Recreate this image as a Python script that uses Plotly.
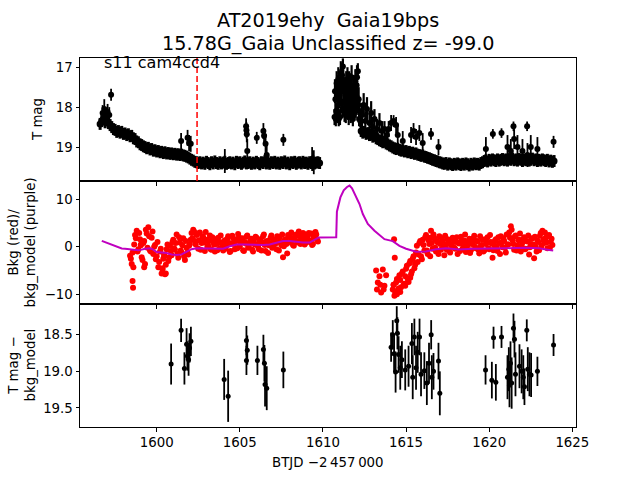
import numpy as np
import plotly.graph_objects as go
from plotly.subplots import make_subplots

# ---------------- data ----------------
CADENCE = 0.1  # days between cadence samples of the dense light-curve lists

# Top panel: T mag, orbit 1 (starts 1596.6)
lc1_start = 1596.6
lc1_mag = [18.42, 18.35, 18.30, 18.38, 18.33, 18.40, 18.45, 18.50, 18.55, 18.57,
           18.62, 18.60, 18.64, 18.62, 18.67, 18.66, 18.70, 18.68, 18.73, 18.72,
           18.78, 18.80, 18.86, 18.88, 18.93, 18.95, 18.98, 19.00, 19.03, 19.02,
           19.06, 19.05, 19.09, 19.08, 19.11, 19.10, 19.13, 19.12, 19.15, 19.13,
           19.16, 19.15, 19.17, 19.16, 19.18, 19.17, 19.19, 19.18, 19.20, 19.19,
           19.21, 19.22, 19.24, 19.26, 19.29, 19.32, 19.34, 19.37, 19.38, 19.40,
           19.38, 19.41, 19.39, 19.42, 19.37, 19.40, 19.43, 19.38, 19.41, 19.36,
           19.40, 19.42, 19.38, 19.41, 19.39, 19.37, 19.42, 19.40, 19.38, 19.41,
           19.39, 19.43, 19.37, 19.40, 19.38, 19.42, 19.39, 19.36, 19.41, 19.40,
           19.38, 19.42, 19.39, 19.41, 19.37, 19.40, 19.43, 19.38, 19.40, 19.36,
           19.41, 19.39, 19.42, 19.38, 19.40, 19.37, 19.41, 19.39, 19.42, 19.38,
           19.40, 19.36, 19.41, 19.39, 19.43, 19.38, 19.40, 19.37, 19.42, 19.39,
           19.38, 19.41, 19.37, 19.40, 19.39, 19.42, 19.38, 19.40, 19.36, 19.41,
           19.39, 19.38, 19.40]
lc1_err = 0.15

# Top panel: orbit 2 after the flare (starts 1612.3)
lc2_start = 1612.3
lc2_mag = [18.60, 18.64, 18.62, 18.67, 18.65, 18.70, 18.69, 18.74, 18.72, 18.78,
           18.80, 18.83, 18.85, 18.88, 18.87, 18.91, 18.93, 18.96, 18.98, 19.01,
           19.03, 19.05, 19.04, 19.07, 19.09, 19.08, 19.11, 19.10, 19.13, 19.12,
           19.15, 19.14, 19.17, 19.16, 19.19, 19.20, 19.22, 19.21, 19.24, 19.25,
           19.27, 19.28, 19.30, 19.32, 19.33, 19.35, 19.36, 19.38, 19.39, 19.41,
           19.42, 19.40, 19.44, 19.41, 19.43, 19.45, 19.42, 19.44, 19.41, 19.43,
           19.45, 19.42, 19.44, 19.41, 19.43, 19.46, 19.42, 19.44, 19.41, 19.43,
           19.42, 19.44, 19.40, 19.38, 19.35, 19.33, 19.36, 19.32, 19.34, 19.31,
           19.33, 19.35, 19.31, 19.34, 19.32, 19.30, 19.33, 19.31, 19.34, 19.30,
           19.32, 19.29, 19.33, 19.31, 19.34, 19.30, 19.32, 19.35, 19.31, 19.33,
           19.30, 19.34, 19.32, 19.29, 19.33, 19.31, 19.35, 19.32, 19.34, 19.31,
           19.33, 19.35, 19.32, 19.36, 19.34, 19.37, 19.35]
lc2_err = 0.15

# Top panel: flare at the start of orbit 2
flare_t = [1610.70, 1610.75, 1610.80, 1610.85, 1610.90, 1610.95, 1611.00, 1611.05,
           1611.10, 1611.15, 1611.20, 1611.25, 1611.30, 1611.35, 1611.40, 1611.45,
           1611.50, 1611.55, 1611.60, 1611.65, 1611.70, 1611.75, 1611.80, 1611.85,
           1611.90, 1611.95, 1612.00, 1612.05, 1612.10, 1612.15, 1612.20, 1612.25,
           1612.35, 1612.45, 1612.55, 1612.65, 1612.80, 1612.90, 1613.00, 1613.10,
           1613.25, 1613.40, 1613.55, 1613.70, 1613.85]
flare_mag = [18.25, 17.80, 18.10, 17.50, 17.95, 18.30, 17.65, 17.35,
             17.90, 17.20, 16.98, 17.55, 18.15, 17.70, 17.40, 18.00,
             17.60, 18.25, 17.85, 17.45, 18.05, 17.70, 18.30, 17.50,
             17.90, 17.35, 17.75, 17.25, 17.10, 17.80, 18.10, 18.35,
             18.20, 17.95, 18.35, 18.05, 18.40, 18.15, 18.50, 18.30,
             18.55, 18.40, 18.60, 18.55, 18.70]
flare_err = [0.2, 0.3, 0.22, 0.3, 0.25, 0.18, 0.3, 0.3,
             0.25, 0.3, 0.2, 0.3, 0.22, 0.3, 0.3, 0.25,
             0.3, 0.2, 0.28, 0.3, 0.22, 0.3, 0.18, 0.3,
             0.28, 0.3, 0.3, 0.3, 0.2, 0.3, 0.25, 0.15,
             0.3, 0.3, 0.25, 0.3, 0.25, 0.3, 0.25, 0.25,
             0.25, 0.25, 0.25, 0.2, 0.2]
flare2_t = [1610.725, 1610.775, 1610.825, 1610.875, 1610.925, 1610.975, 1611.025,
            1611.075, 1611.125, 1611.175, 1611.225, 1611.275, 1611.325, 1611.375,
            1611.425, 1611.475, 1611.525, 1611.575, 1611.625, 1611.675, 1611.725,
            1611.775, 1611.825, 1611.875, 1611.925, 1611.975, 1612.025, 1612.075,
            1612.125, 1612.175]
flare2_mag = [17.60, 18.30, 17.40, 18.20, 17.30, 17.75, 18.25, 17.15, 17.60, 18.05,
              17.35, 17.85, 17.55, 18.20, 17.80, 17.30, 18.10, 17.40, 17.65, 18.20,
              17.25, 17.95, 17.55, 18.15, 17.65, 18.05, 17.45, 17.80, 17.95, 18.30]
flare2_err = [0.3, 0.18, 0.3, 0.2, 0.3, 0.28, 0.2, 0.3, 0.3, 0.22,
              0.3, 0.26, 0.3, 0.2, 0.28, 0.3, 0.22, 0.3, 0.3, 0.2,
              0.3, 0.25, 0.3, 0.2, 0.3, 0.22, 0.3, 0.28, 0.25, 0.18]

# Top panel: isolated points with large error bars
out_t = [1596.75, 1596.85, 1596.95, 1597.05, 1597.15, 1597.26,
         1601.47, 1601.86, 1601.95, 1602.05, 1604.10,
         1605.38, 1605.40, 1605.42, 1605.45, 1606.02,
         1606.42, 1606.46, 1606.55, 1606.62, 1607.62, 1609.35, 1609.45,
         1613.95, 1614.10, 1614.25, 1614.40, 1614.50, 1614.80,
         1615.30, 1615.45, 1615.60, 1615.80, 1616.00, 1616.50, 1616.95,
         1619.80, 1620.22, 1620.74, 1621.10, 1621.30, 1621.46, 1621.50,
         1621.70, 1622.00, 1622.28, 1622.30, 1622.50, 1622.90, 1623.87]
out_mag = [18.15, 18.05, 18.22, 18.12, 18.20, 17.69,
           18.85, 18.77, 18.90, 18.92, 19.35,
           18.48, 18.58, 18.68, 19.10, 18.77,
           18.60, 18.72, 18.92, 19.20, 18.82, 19.30, 19.38,
           18.55, 18.40, 18.35, 18.45, 18.70, 18.85,
           18.70, 18.60, 18.75, 18.65, 18.90, 18.67, 19.00,
           19.05, 18.67, 18.65, 19.00, 19.10, 18.48, 18.80,
           19.00, 19.10, 18.48, 19.20, 19.00, 19.05, 18.87]
out_err = [0.2, 0.25, 0.2, 0.2, 0.2, 0.15,
           0.2, 0.2, 0.2, 0.2, 0.3,
           0.2, 0.2, 0.2, 0.3, 0.15,
           0.2, 0.2, 0.25, 0.3, 0.15, 0.3, 0.3,
           0.2, 0.2, 0.15, 0.2, 0.25, 0.25,
           0.2, 0.2, 0.2, 0.2, 0.25, 0.15, 0.2,
           0.3, 0.12, 0.12, 0.3, 0.3, 0.12, 0.25,
           0.3, 0.3, 0.12, 0.3, 0.3, 0.3, 0.15]

# Middle panel: background (red), orbit 1 (two interleaved cadence lists)
bkg1_start = 1598.4
bkg1 = [-1.9, -3.6, -4.3, 2.5, 3.4, -0.5, 1.6, -2.2, 0.8, -3.6,
        2.8, 4.1, -0.8, 1.9, -1.5, 0.4, -2.0, -4.3, -1.0, -5.6,
        -2.5, -5.8, -0.5, -3.0, 0.2, -1.8, 1.5, -0.6, 2.6, -2.3,
        0.9, -1.2, 1.8, -2.8, -0.2, -1.6, 0.6, 2.9, 3.6, 1.2,
        2.5, -0.4, 3.0, 0.8, 2.0, -0.9, 1.5, 0.2, 2.4, -0.6,
        1.0, -1.0, 0.6, 1.9, -0.3, 0.9, -0.8, 1.4, 0.3, 2.2,
        -1.1, 0.7, 1.8, -0.5, 1.2, 2.7, 0.1, 1.6, -0.7, 1.0,
        2.1, -0.2, 0.9, 1.7, -1.0, 0.5, 1.9, 0.0, 1.3, -0.8,
        2.2, 0.4, 1.1, -1.3, 0.8, 2.4, 0.2, 1.5, -0.5, 1.0,
        2.0, 0.3, -2.2, 1.4, 0.6, 2.5, 1.0, 3.0, 0.4, 1.8,
        2.6, 0.9, 2.2, 1.2, 2.9, 0.5, 1.7, 2.4, 1.0, 2.8,
        0.6, 1.9, 2.6, 1.1]
bkg1b_start = 1598.45
bkg1b = [-2.5, -1.2, 0.5,
         1.8, -1.0, 2.9, 0.3, -2.8, 1.2, 3.6,
         -0.2, 2.2, -1.0, 3.2, 0.0, -2.6, 1.0,
         -3.2, -0.4, -4.5, -1.6, -3.8, 0.5, -2.2, -0.9, 1.0, -0.3,
         0.8, -1.5, 2.0, -0.8, 0.3, -2.0, 1.2, -1.2, 0.2, 1.5,
         1.8, 3.2, 0.5, 2.8, 1.4, -0.6, 2.2, 0.9, 3.1, 0.0,
         1.2, -0.5, 2.0, 0.5, 1.6, -0.7, 1.0, 2.4, 0.3, 1.1,
         -0.4, 1.7, 0.8, -0.9, 2.3, 0.6, 1.4, -0.3, 2.0, 0.9,
         1.8, -0.9, 0.7, 2.4, 0.2, 1.3, -0.6, 1.0, 2.1, 0.5,
         -0.5, 1.6, 0.9, 2.6, -0.9, 1.2, 0.3, 1.9, -0.2, 1.4,
         0.7, 2.2, -0.8, 1.0, 2.6, 0.1, 1.6, -1.4, 0.9, 2.0,
         1.5, 0.2, 2.4, 1.1, 3.2, 0.6, 1.9, 2.7, 0.8, 1.6,
         2.9, 1.3, 0.4, 2.1, 3.1, 1.5]

# Middle panel: background, orbit 2
bkg2a_start = 1613.2
bkg2a = [-5.0, -7.5, -6.2, -9.6, -4.8, -8.2, -6.0]
bkg2b_start = 1614.2
bkg2b = [-9.0, -10.3, -7.5, -9.2, -6.0, -8.5, -5.2, -7.8, -4.6, -6.8,
         -3.5, -5.8, -2.5, -4.5, -1.2, -3.2, 0.8, -2.0, 1.5, -0.8,
         2.5, -1.5, 0.6, 3.4, -0.4, 1.8, -1.0, 0.9, 2.2, -0.6,
         1.2, -1.8, 0.5, 1.6, -0.9, 0.3, 1.9, -0.2, 1.0, -1.5,
         0.7, 2.1, -0.4, 1.3, -1.1, 0.4, 1.7, -0.7, 0.9, 2.3,
         -0.3, 1.1, -1.4, 0.2, 1.5, -0.8, 0.6, 2.0, -0.5, 1.0,
         -2.3, 0.3, 1.6, -0.9, 0.8, 2.2, -0.1, 1.2, -1.2, 0.5,
         3.0, 4.3, 1.4, -0.6, 2.4, 0.2, 1.5, -1.0, 0.9, 2.0,
         -0.4, 1.1, -1.6, 0.6, 1.8, -2.4, 0.0, 1.3, -0.7, 2.9,
         3.4, 0.8, 1.9, -0.3, 2.5, 1.0, 0.4]
bkg2c_start = 1614.25
bkg2c = [-8.0, -9.6, -6.8, -8.8, -7.0, -5.6, -8.0, -6.2, -4.0, -7.4,
         -3.0, -5.2, -2.0, -3.8, 0.2, -1.6, 1.2, -2.6, 0.4, 2.0,
         -0.8, 1.4, -2.0, 0.8, 2.6, -0.2, 1.2, -1.5, 0.6, 1.8,
         0.1, 2.3, -0.6, 1.1, -1.2, 0.5, 1.5, -0.4, 2.0, 0.8,
         -0.9, 1.4, 0.2, 2.6, -0.2, 1.0, -1.3, 0.6, 1.8, 0.0,
         1.2, -0.6, 2.2, 0.4, -1.0, 1.6, 0.9, -0.3, 2.5, 0.7,
         -0.7, 1.3, 0.1, 2.0, -1.5, 0.9, 1.8, -0.2, 2.6, 0.5,
         1.9, 3.6, 0.6, 2.2, -0.8, 1.4, 2.8, 0.3, 1.6, -0.5,
         1.2, 2.4, -0.1, 1.7, 0.5, 2.1, -1.0, 1.0, 2.3, 0.2,
         1.5, 3.0, 0.9, 2.2, -0.2, 1.7]

# Middle panel: scattered extra background points
bkgx_t = [1598.55, 1598.58, 1599.25, 1600.35, 1600.55, 1600.45, 1599.05,
          1613.25, 1613.45, 1613.65, 1614.25, 1614.45, 1614.28, 1614.32,
          1614.65, 1614.95, 1615.25, 1615.55, 1616.45]
bkgx = [-7.2, -8.6, -4.3, -4.8, -5.6, -2.0, 0.5,
        -9.0, -8.0, -9.0, -8.0, -10.0, 1.6, -2.3,
        -9.5, -8.2, -6.5, -3.5, 1.9]

# Middle panel: background model (purple)
model_t = [1596.70, 1596.90, 1597.10, 1597.30, 1597.50, 1597.70, 1597.90, 1598.10,
           1598.30, 1598.50, 1598.70, 1598.90, 1599.10, 1599.30, 1599.60, 1599.80,
           1600.00, 1600.30, 1600.60, 1600.90, 1601.20, 1601.50, 1601.80, 1602.10,
           1602.40, 1602.80, 1603.20, 1603.60, 1604.00, 1604.40, 1604.80, 1605.20,
           1605.60, 1606.00, 1606.40, 1606.80, 1607.20, 1607.60, 1608.00, 1608.40,
           1608.80, 1609.20, 1609.50, 1609.75, 1610.80, 1610.84, 1611.05, 1611.25,
           1611.45, 1611.60, 1611.75, 1612.00, 1612.20, 1612.40, 1612.70, 1613.10,
           1613.70, 1614.20, 1614.60, 1615.00, 1615.60, 1616.20, 1616.80, 1617.40,
           1618.20, 1619.00, 1620.20, 1621.00, 1622.20, 1623.00, 1623.50, 1623.85]
model_val = [1.26, 1.0, 0.7, 0.4, 0.1, -0.1, -0.35, -0.4,
             -0.5, -0.6, -0.7, -0.75, -0.6, -0.4, -0.3, -0.6,
             -1.1, -1.2, -1.3, -1.6, -1.75, -1.6, -1.1, -0.5,
             -0.3, -0.3, -0.35, -0.45, -0.4, 0.1, 0.5, 0.5,
             0.45, 0.4, 0.4, 0.5, 0.8, 1.2, 1.2, 1.0,
             0.9, 0.9, 1.4, 1.96, 2.0, 7.4, 10.4, 11.9,
             12.6, 12.9, 12.3, 10.4, 9.0, 6.9, 4.8, 3.4,
             1.6, 1.2, 0.2, -0.4, -1.05, -1.0, -0.5, -0.3,
             -0.55, -0.4, -0.4, -0.3, -0.2, -0.3, -0.6, -0.8]

# Bottom panel: T mag - bkg_model
res_t = [1600.87, 1601.47, 1601.67, 1601.80, 1601.85, 1601.92, 1602.06, 1601.98,
         1604.06, 1604.30, 1605.40, 1605.40, 1605.45, 1606.06, 1606.42, 1606.48,
         1606.52, 1606.62, 1607.62,
         1614.10, 1614.20, 1614.28, 1614.37, 1614.44, 1614.48, 1614.55, 1614.65,
         1614.75, 1614.95, 1615.15, 1615.35, 1615.40, 1615.50, 1615.60, 1615.70,
         1615.81, 1615.90, 1616.10, 1616.25, 1616.38, 1616.51, 1616.55, 1616.65,
         1616.95, 1617.03,
         1619.78, 1620.16, 1620.26, 1620.40, 1620.74, 1621.10, 1621.18, 1621.22,
         1621.28, 1621.35, 1621.46, 1621.52, 1621.58, 1621.82, 1621.95, 1622.05,
         1622.12, 1622.26, 1622.32, 1622.42, 1622.52, 1622.90, 1623.87]
res_mag = [18.90, 18.44, 18.96, 18.63, 18.79, 18.84, 18.59, 18.68,
           19.11, 19.34, 18.58, 18.85, 18.71, 18.85, 18.70, 18.89,
           19.18, 19.23, 18.98,
           18.67, 18.50, 18.76, 19.01, 18.31, 18.48, 18.77, 18.95,
           18.84, 18.98, 18.93, 18.62, 19.08, 18.53, 18.95, 18.74,
           18.53, 19.04, 18.99, 19.16, 18.89, 18.50, 19.08, 19.00,
           18.86, 19.30,
           18.98, 19.12, 18.54, 19.15, 18.53, 19.08, 18.97, 19.19,
           18.89, 19.16, 18.41, 18.56, 19.04, 18.93, 19.00, 19.08,
           19.21, 18.44, 18.97, 19.04, 19.05, 19.00, 18.64]
res_err = [0.28, 0.16, 0.22, 0.22, 0.2, 0.22, 0.2, 0.2,
           0.28, 0.35, 0.2, 0.2, 0.2, 0.2, 0.2, 0.25,
           0.3, 0.3, 0.25,
           0.2, 0.2, 0.25, 0.28, 0.2, 0.22, 0.25, 0.3,
           0.25, 0.28, 0.28, 0.28, 0.3, 0.25, 0.3, 0.28,
           0.25, 0.3, 0.25, 0.3, 0.28, 0.2, 0.3, 0.25,
           0.25, 0.3,
           0.2, 0.25, 0.15, 0.25, 0.15, 0.3, 0.3, 0.3,
           0.3, 0.35, 0.2, 0.25, 0.3, 0.3, 0.3, 0.3,
           0.25, 0.15, 0.3, 0.3, 0.3, 0.2, 0.15]

t_marker = 1602.43
x_ticks = [1600, 1605, 1610, 1615, 1620, 1625]
title_line1 = "AT2019ehy\u00a0 Gaia19bps"
title_line2 = "15.78G_Gaia Unclassified z= -99.0"
sector_label = "s11 cam4ccd4"

# ---------------- figure ----------------
def cadence_times(start, values):
    return [round(start + CADENCE * i, 3) for i in range(len(values))]

FONT = "DejaVu Sans, Liberation Sans, sans-serif"
fig = make_subplots(rows=3, cols=1, shared_xaxes=True, vertical_spacing=0)

def err(arr, thick=1.5):
    return dict(type="data", array=arr, visible=True, thickness=thick, width=0, color="black")

BLACK_MK = dict(color="black", size=6, line=dict(width=0))
BAND_MK = dict(color="black", size=7, line=dict(width=0))

# top panel
fig.add_trace(go.Scatter(x=cadence_times(lc1_start, lc1_mag), y=lc1_mag, mode="markers",
                         marker=BAND_MK, error_y=err([lc1_err] * len(lc1_mag), 3)), row=1, col=1)
fig.add_trace(go.Scatter(x=cadence_times(lc2_start, lc2_mag), y=lc2_mag, mode="markers",
                         marker=BAND_MK, error_y=err([lc2_err] * len(lc2_mag), 3)), row=1, col=1)
fig.add_trace(go.Scatter(x=flare_t, y=flare_mag, mode="markers",
                         marker=BLACK_MK, error_y=err(flare_err, 2.2)), row=1, col=1)
fig.add_trace(go.Scatter(x=flare2_t, y=flare2_mag, mode="markers",
                         marker=BLACK_MK, error_y=err(flare2_err, 2.2)), row=1, col=1)
fig.add_trace(go.Scatter(x=out_t, y=out_mag, mode="markers",
                         marker=BLACK_MK, error_y=err(out_err, 1.8)), row=1, col=1)

# middle panel
for start, vals in [(bkg1_start, bkg1), (bkg1b_start, bkg1b), (bkg2a_start, bkg2a),
                    (bkg2b_start, bkg2b), (bkg2c_start, bkg2c)]:
    fig.add_trace(go.Scatter(x=cadence_times(start, vals), y=vals, mode="markers",
                             marker=dict(color="#ff0000", size=6, line=dict(width=0))),
                  row=2, col=1)
fig.add_trace(go.Scatter(x=bkgx_t, y=bkgx, mode="markers",
                         marker=dict(color="#ff0000", size=6, line=dict(width=0))),
              row=2, col=1)
fig.add_trace(go.Scatter(x=model_t, y=model_val, mode="lines",
                         line=dict(color="#bf00bf", width=2)), row=2, col=1)

# bottom panel
fig.add_trace(go.Scatter(x=res_t, y=res_mag, mode="markers",
                         marker=dict(color="black", size=5, line=dict(width=0)),
                         error_y=err(res_err, 1.8)), row=3, col=1)

xr = [1595.39, 1625.22]
axis_common = dict(showline=True, mirror=True, linecolor="black", linewidth=1,
                   ticks="outside", ticklen=3.5, tickwidth=0.8, tickcolor="black",
                   showgrid=False, zeroline=False,
                   tickfont=dict(family=FONT, size=13.33, color="black"))
for i in (1, 2, 3):
    fig.update_xaxes(axis_common, row=i, col=1, range=xr, tickvals=x_ticks,
                     showticklabels=(i == 3))
fig.update_yaxes(axis_common, row=1, col=1, range=[19.85, 16.77], tickvals=[17, 18, 19])
fig.update_yaxes(axis_common, row=2, col=1, range=[-12.04, 13.85], tickvals=[-10, 0, 10])
fig.update_yaxes(axis_common, row=3, col=1, range=[19.76, 18.08],
                 tickvals=[18.5, 19.0, 19.5], tickformat=".1f")

fig.add_shape(type="line", x0=t_marker, x1=t_marker, xref="x", yref="y domain",
              y0=0, y1=1, line=dict(color="#ff0000", width=1.5, dash="6px,3px"))

def pap(py):
    return (427.2 - py) / 369.6

def papx(px):
    return (px - 80) / 496

ann = []
ann.append(dict(text=title_line1, x=0.5, y=pap(20), xref="paper", yref="paper",
                showarrow=False, xanchor="center", yanchor="middle",
                font=dict(family=FONT, size=19.2, color="black")))
ann.append(dict(text=title_line2, x=0.5, y=pap(43.3), xref="paper", yref="paper",
                showarrow=False, xanchor="center", yanchor="middle",
                font=dict(family=FONT, size=19.2, color="black")))
ann.append(dict(text=sector_label, x=1596.74, y=16.885, xref="x", yref="y",
                showarrow=False, xanchor="left", yanchor="middle",
                font=dict(family=FONT, size=16, color="black")))
ann.append(dict(text="T mag", x=papx(37.5), y=5 / 6, xref="paper", yref="paper",
                showarrow=False, textangle=-90, xanchor="center", yanchor="middle",
                font=dict(family=FONT, size=13.33, color="black")))
ann.append(dict(text="Bkg (red)/<br>bkg_model (purple)", x=papx(21), y=0.5,
                xref="paper", yref="paper", showarrow=False, textangle=-90,
                xanchor="center", yanchor="middle",
                font=dict(family=FONT, size=13.33, color="black")))
ann.append(dict(text="T mag \u2212<br>bkg_model", x=papx(21), y=1 / 6,
                xref="paper", yref="paper", showarrow=False, textangle=-90,
                xanchor="center", yanchor="middle",
                font=dict(family=FONT, size=13.33, color="black")))
ann.append(dict(text="BTJD \u22122\u2009457\u2009000", x=0.5, y=pap(463),
                xref="paper", yref="paper", showarrow=False,
                xanchor="center", yanchor="middle",
                font=dict(family=FONT, size=13.33, color="black")))

fig.update_layout(width=640, height=480, showlegend=False,
                  margin=dict(l=80, r=64, t=57.6, b=52.8, pad=0),
                  paper_bgcolor="white", plot_bgcolor="white",
                  font=dict(family=FONT, color="black"),
                  annotations=ann)

fig.write_html("out.html", config={"displayModeBar": False},
               post_script="document.body.style.margin='0';document.body.style.padding='0';")
